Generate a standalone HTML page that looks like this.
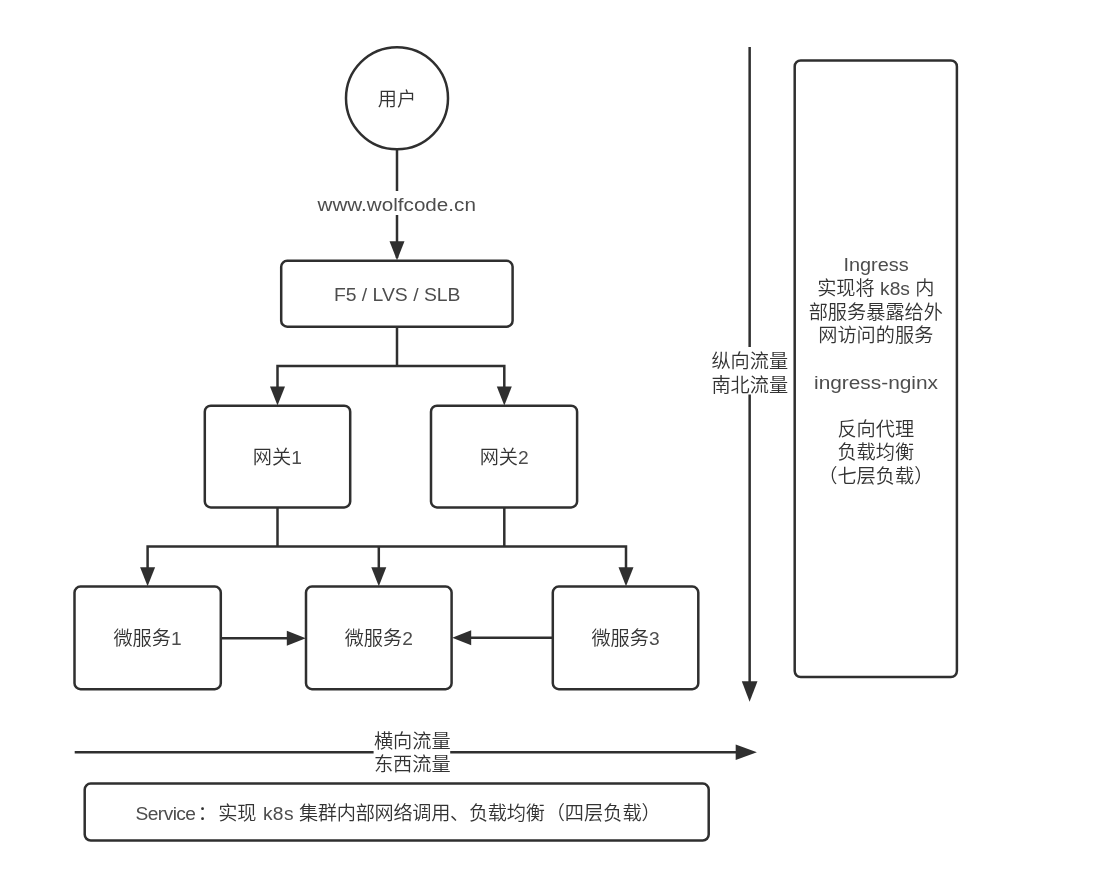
<!DOCTYPE html>
<html lang="zh-CN">
<head>
<meta charset="utf-8">
<title>k8s Ingress / Service</title>
<style>
html,body{margin:0;padding:0;background:#fff;}
body{width:1104px;height:885px;overflow:hidden;}
svg{display:block;will-change:transform;}
.ln{fill:none;stroke:#2f2f2f;stroke-width:2.5;}
.bx{fill:#fff;stroke:#2f2f2f;stroke-width:2.5;}
.ah{fill:#2f2f2f;stroke:none;}
.t{font-family:"Liberation Sans","Noto Sans CJK SC",sans-serif;font-size:19.2px;fill:#333;text-anchor:middle;font-weight:350;white-space:pre;}
.l{fill:#4d4d4d;}
</style>
</head>
<body>
<svg width="1104" height="885" viewBox="0 0 1104 885">
<path class="ln" d="M397 149 V258"/>
<path class="ln" d="M397 327 V366"/>
<path class="ln" d="M277.5 400 V366 H504.3 V400"/>
<path class="ln" d="M277.5 507 V546.6"/>
<path class="ln" d="M504.3 507 V546.6"/>
<path class="ln" d="M147.6 580 V546.6 H626 V580"/>
<path class="ln" d="M378.8 546.6 V580"/>
<path class="ln" d="M221 638.2 H290"/>
<path class="ln" d="M552.5 637.8 H468"/>
<path class="ln" d="M749.65 47 V690"/>
<path class="ln" d="M74.7 752.2 H745"/>
<polygon class="ah" points="397.0,260.3 389.5,241.3 404.5,241.3"/>
<polygon class="ah" points="277.5,405.6 270.0,386.6 285.0,386.6"/>
<polygon class="ah" points="504.3,405.6 496.8,386.6 511.8,386.6"/>
<polygon class="ah" points="147.6,586.2 140.1,567.2 155.1,567.2"/>
<polygon class="ah" points="378.8,586.2 371.3,567.2 386.3,567.2"/>
<polygon class="ah" points="626.0,586.2 618.5,567.2 633.5,567.2"/>
<polygon class="ah" points="305.8,638.2 286.8,630.7 286.8,645.7"/>
<polygon class="ah" points="452.2,637.8 471.2,630.3 471.2,645.3"/>
<polygon class="ah" points="749.6,701.7 741.8,681.2 757.5,681.2"/>
<polygon class="ah" points="756.9,752.2 735.7,744.4 735.7,760.0"/>
<circle class="bx" cx="397" cy="98.2" r="51"/>
<rect class="bx" x="281.2" y="260.8" width="231.4" height="65.9" rx="6" ry="6"/>
<rect class="bx" x="204.8" y="405.7" width="145.4" height="101.7" rx="6" ry="6"/>
<rect class="bx" x="431.0" y="405.7" width="146.1" height="101.7" rx="6" ry="6"/>
<rect class="bx" x="74.5" y="586.6" width="146.3" height="102.6" rx="6" ry="6"/>
<rect class="bx" x="306.0" y="586.6" width="145.6" height="102.6" rx="6" ry="6"/>
<rect class="bx" x="552.8" y="586.6" width="145.5" height="102.6" rx="6" ry="6"/>
<rect class="bx" x="794.7" y="60.4" width="162.2" height="616.7" rx="6" ry="6"/>
<rect class="bx" x="84.7" y="783.6" width="624.0" height="56.9" rx="6" ry="6"/>
<rect fill="#fff" x="316" y="191" width="162" height="24"/>
<rect fill="#fff" x="711" y="347" width="78" height="47.5"/>
<rect fill="#fff" x="373.6" y="729.5" width="76.6" height="47"/>
<text class="t" x="397.0" y="106.2">用户</text>
<text class="t l" x="396.7" y="210.9" textLength="158.4" lengthAdjust="spacingAndGlyphs">www.wolfcode.cn</text>
<text class="t l" x="397.2" y="301.0" textLength="126.6" lengthAdjust="spacingAndGlyphs">F5 / LVS / SLB</text>
<text class="t" x="277.3" y="463.9">网关<tspan class="l">1</tspan></text>
<text class="t" x="504.2" y="463.9">网关<tspan class="l">2</tspan></text>
<text class="t" x="147.5" y="644.9">微服务<tspan class="l">1</tspan></text>
<text class="t" x="378.8" y="644.9">微服务<tspan class="l">2</tspan></text>
<text class="t" x="625.5" y="644.9">微服务<tspan class="l">3</tspan></text>
<text class="t" x="749.8" y="368.1">纵向流量</text>
<text class="t" x="749.8" y="391.5">南北流量</text>
<text class="t" x="412.3" y="747.9">横向流量</text>
<text class="t" x="412.3" y="771.3">东西流量</text>
<text class="t" x="135.6" y="819.5" style="text-anchor:start"><tspan class="l" style="letter-spacing:-0.6px">Service</tspan><tspan dx="2.4">：</tspan><tspan dx="1.2">实现</tspan> <tspan class="l" dx="1" style="letter-spacing:0.4px">k8s</tspan> <tspan dx="-0.3" style="letter-spacing:-0.3px">集群内部网络调用、负载均衡</tspan><tspan dx="1.1">（四层负载）</tspan></text>
<text class="t l" x="876.0" y="271.2" textLength="65.2" lengthAdjust="spacingAndGlyphs">Ingress</text>
<text class="t" x="875.8" y="295.3">实现将 <tspan class="l">k8s</tspan> 内</text>
<text class="t" x="875.8" y="318.7">部服务暴露给外</text>
<text class="t" x="875.8" y="342.1">网访问的服务</text>
<text class="t l" x="876.0" y="388.9" textLength="124.0" lengthAdjust="spacingAndGlyphs">ingress-nginx</text>
<text class="t" x="875.8" y="435.7">反向代理</text>
<text class="t" x="875.8" y="459.1">负载均衡</text>
<text class="t" x="875.8" y="482.5">（七层负载）</text>
</svg>
</body>
</html>
